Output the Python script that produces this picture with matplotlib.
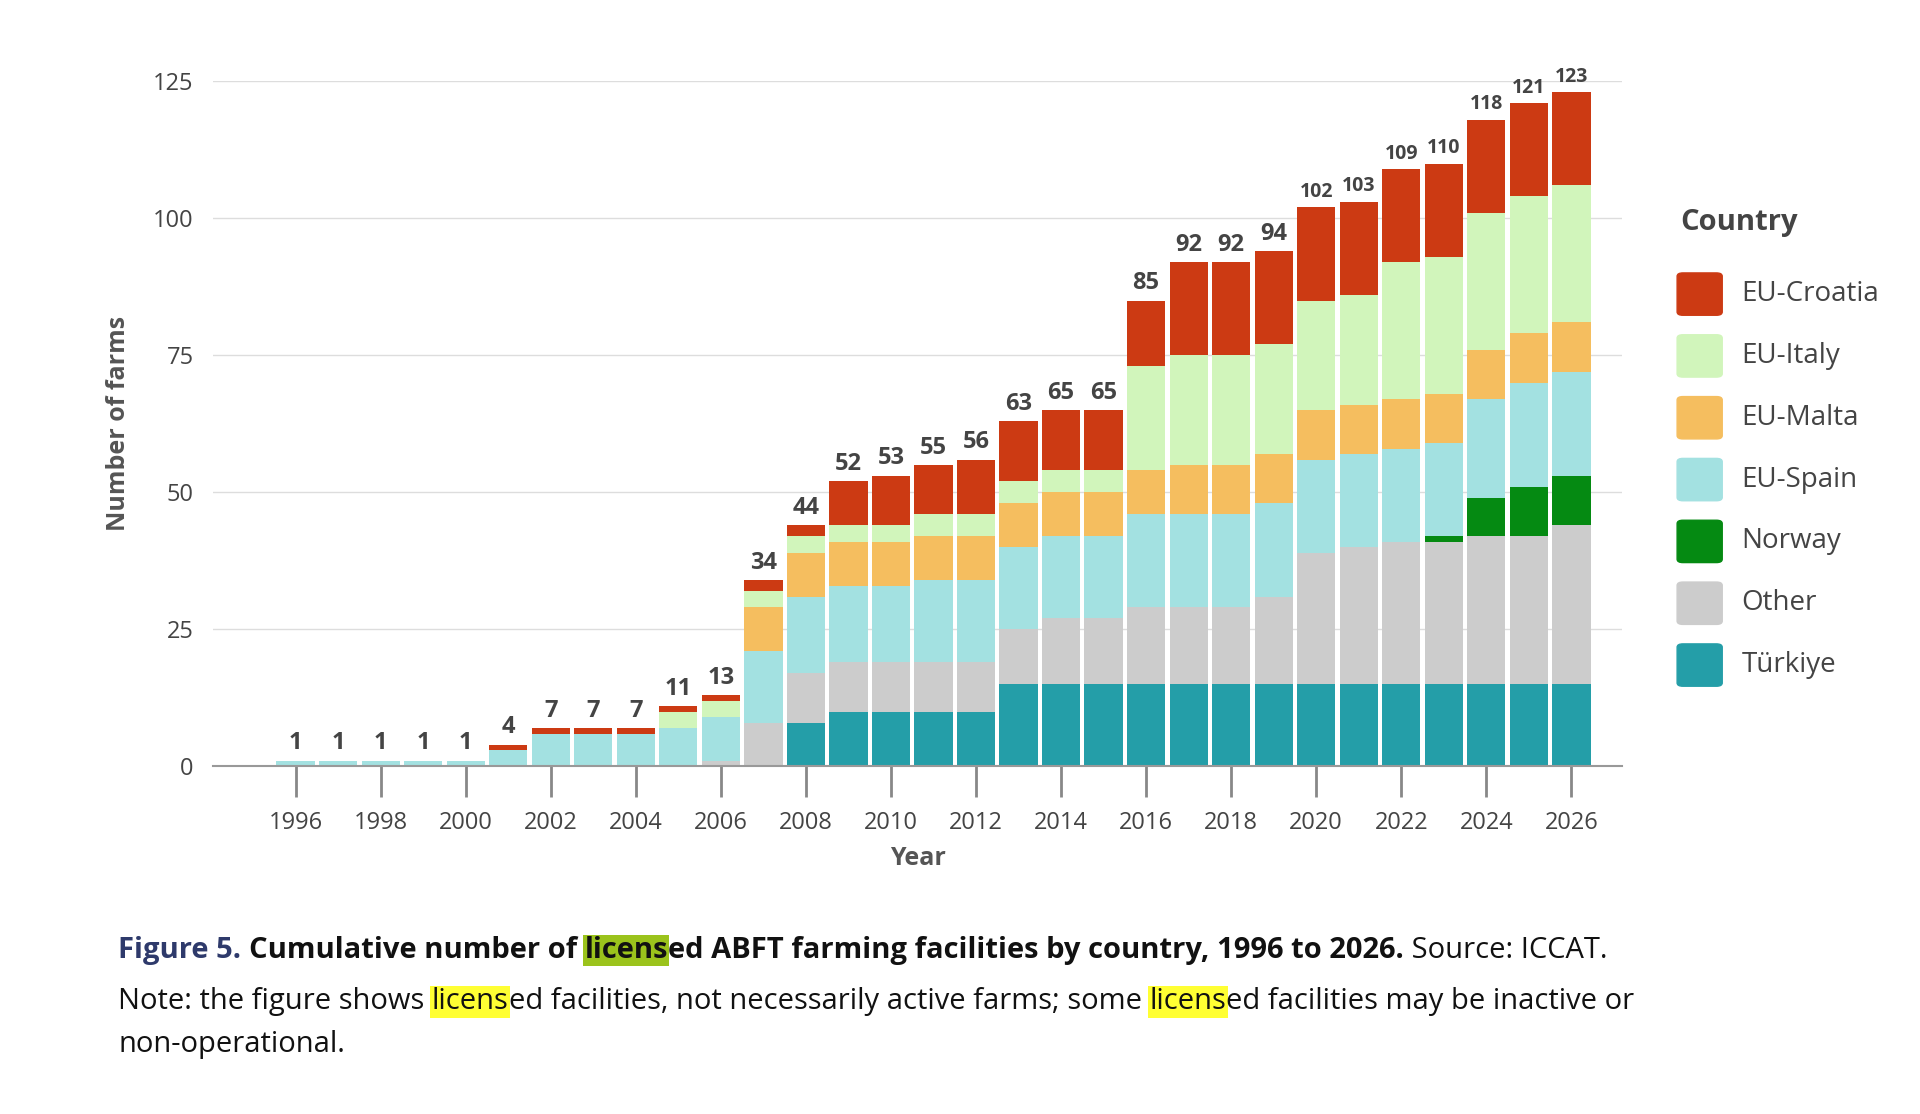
import matplotlib
matplotlib.use("Agg")
import matplotlib.pyplot as plt
from matplotlib.patches import FancyBboxPatch
import numpy as np

plt.rcParams["font.family"] = ["Open Sans", "DejaVu Sans"]

years = list(range(1996, 2027))
turkiye = [0]*12 + [8, 10, 10, 10, 10] + [15]*14
other = [0]*10 + [1, 8, 9, 9, 9, 9, 9, 10, 12, 12, 14, 14, 14, 16, 24, 25, 26, 26, 27, 27, 29]
norway = [0]*27 + [1, 7, 9, 9]
spain = [1, 1, 1, 1, 1, 3, 6, 6, 6, 7, 8, 13, 14, 14, 14, 15, 15, 15, 15, 15,
         17, 17, 17, 17, 17, 17, 17, 17, 18, 19, 19]
malta = [0]*11 + [8, 8, 8, 8, 8, 8, 8, 8, 8, 8, 9, 9, 9, 9, 9, 9, 9, 9, 9, 9]
italy = [0]*9 + [3, 3, 3, 3, 3, 3, 4, 4, 4, 4, 4, 19, 20, 20, 20, 20, 20, 25, 25, 25, 25, 25]
croatia = [0]*5 + [1, 1, 1, 1, 1, 1, 2, 2, 8, 9, 9, 10, 11, 11, 11, 12, 17, 17, 17, 17, 17, 17, 17, 17, 17, 17]

series = [("Türkiye", turkiye, "#249ea8"), ("Other", other, "#cccccc"),
          ("Norway", norway, "#058a12"), ("EU-Spain", spain, "#a3e1e1"),
          ("EU-Malta", malta, "#f5be5f"), ("EU-Italy", italy, "#d1f5bb"),
          ("EU-Croatia", croatia, "#cc3a13")]

fig = plt.figure(figsize=(19.2, 11.14), dpi=100)
ax = fig.add_axes([0.111, 0.312, 0.734, 0.615])

bottom = np.zeros(len(years))
for nome, vals, cor in series:
    ax.bar(years, vals, 0.9, bottom=bottom, color=cor, linewidth=0)
    bottom += np.array(vals)
for x, t in zip(years, bottom):
    ax.text(x, t + 1.0, f"{int(t)}", ha="center", va="bottom",
            fontsize=17 if t < 100 else 14, fontweight="bold", color="#444444")

ax.set_xlim(1994.06, 2027.2)
ax.set_ylim(0, 125)
ax.set_yticks([0, 25, 50, 75, 100, 125])
ax.grid(axis="y", color="#dddddd", linewidth=1)
ax.set_axisbelow(True)
for s in ["top", "right", "left"]:
    ax.spines[s].set_visible(False)
ax.spines["bottom"].set_color("#999999")
ax.spines["bottom"].set_linewidth(1.5)
ax.tick_params(axis="y", length=0, labelsize=17, labelcolor="#444444", pad=14)
ax.set_xticks(list(range(1996, 2027, 2)))
ax.tick_params(axis="x", length=22, width=2, color="#888888", direction="out",
               labelsize=17, labelcolor="#444444", pad=10)
ax.set_xlabel("Year", fontsize=18, fontweight="bold", color="#555555", labelpad=8)
ax.set_ylabel("Number of farms", fontsize=18, fontweight="bold", color="#555555", labelpad=16)

# legenda manual
fig.text(0.875, 0.8, "Country", fontsize=21, fontweight="bold", color="#444444", va="center")
for i, (nome, vals, cor) in enumerate(series[::-1]):
    y = 0.736 - i * 0.0555
    fig.patches.append(FancyBboxPatch((0.8735, y - 0.019), 0.0235, 0.038,
                                      boxstyle="round,pad=0,rounding_size=0.003",
                                      transform=fig.transFigure, color=cor))
    fig.text(0.907, y, nome, fontsize=20, color="#444444", va="center")

# legenda da figura com realces
fig.canvas.draw()
rend = fig.canvas.get_renderer()


def linha(x, y, partes):
    for txt, peso, cor, fundo in partes:
        kw = {}
        if fundo:
            kw["bbox"] = dict(facecolor=fundo, edgecolor="none", pad=1)
        t = fig.text(x, y, txt, fontsize=21, fontweight=peso, color=cor, va="baseline", **kw)
        bb = t.get_window_extent(rend)
        x += bb.width / fig.bbox.width


x0 = 0.0615
linha(x0, 0.14, [("Figure 5. ", "bold", "#2e3a6b", None),
                 ("Cumulative number of ", "bold", "#111111", None),
                 ("licens", "bold", "#111111", "#9bc31c"),
                 ("ed ABFT farming facilities by country, 1996 to 2026.", "bold", "#111111", None),
                 (" Source: ICCAT.", "normal", "#111111", None)])
linha(x0, 0.094, [("Note: the figure shows ", "normal", "#111111", None),
                  ("licens", "normal", "#111111", "#ffff33"),
                  ("ed facilities, not necessarily active farms; some ", "normal", "#111111", None),
                  ("licens", "normal", "#111111", "#ffff33"),
                  ("ed facilities may be inactive or", "normal", "#111111", None)])
linha(x0, 0.056, [("non-operational.", "normal", "#111111", None)])

fig.savefig("out.png", dpi=100)
